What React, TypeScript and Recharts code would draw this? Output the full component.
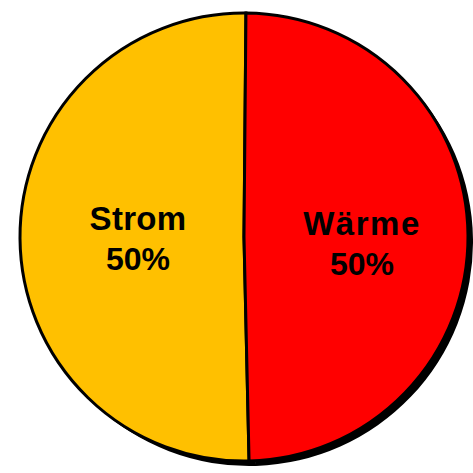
import React from 'react';
import { PieChart, Pie, Cell } from 'recharts';

// Anteile (Beschriftung gerundet auf 50 %)
const categories = ['Strom', 'Wärme'];
const shares = [50.5, 49.5];
const labels = ['50%', '50%'];
const colors = ['#FFC000', '#FF0000'];

const data = categories.map((name, i) => ({ name, value: shares[i] }));

const CX = 244;
const CY = 237;
const R = 224;
const RAD = Math.PI / 180;

function renderLabel(props: any) {
  const { cx, cy, midAngle, outerRadius, index } = props;
  const r = outerRadius * 0.5;
  const x = cx + r * Math.cos(-midAngle * RAD) + 6;
  const y = cy + r * Math.sin(-midAngle * RAD) + (index === 1 ? 8 : 1);
  return (
    <text
      x={x}
      y={y}
      textAnchor="middle"
      fill="#000"
      fontFamily="'Liberation Sans', Arial, sans-serif"
      fontWeight="bold"
      fontSize={33}
    >
      <tspan x={x} dy={-9} letterSpacing={index === 1 ? 1.5 : 0.3}>
        {data[index].name}
      </tspan>
      <tspan x={x} dy={40} fontSize={32}>
        {labels[index]}
      </tspan>
    </text>
  );
}

export default function App() {
  return (
    <div style={{ position: 'absolute', left: 0, top: 0, width: 473, height: 473, background: '#fff' }}>
      <PieChart width={473} height={473} margin={{ top: 0, right: 0, bottom: 0, left: 0 }}>
        {/* Schatten */}
        <Pie
          data={data}
          dataKey="value"
          cx={CX + 5}
          cy={CY + 5}
          outerRadius={R}
          startAngle={90}
          endAngle={450}
          stroke="none"
          isAnimationActive={false}
        >
          {data.map((d) => (
            <Cell key={`s-${d.name}`} fill="#000" />
          ))}
        </Pie>
        <Pie
          data={data}
          dataKey="value"
          cx={CX}
          cy={CY}
          outerRadius={R}
          startAngle={89.5}
          endAngle={449.5}
          stroke="#000"
          strokeWidth={3}
          label={renderLabel}
          labelLine={false}
          isAnimationActive={false}
        >
          {data.map((d, i) => (
            <Cell key={d.name} fill={colors[i]} />
          ))}
        </Pie>
      </PieChart>
    </div>
  );
}
